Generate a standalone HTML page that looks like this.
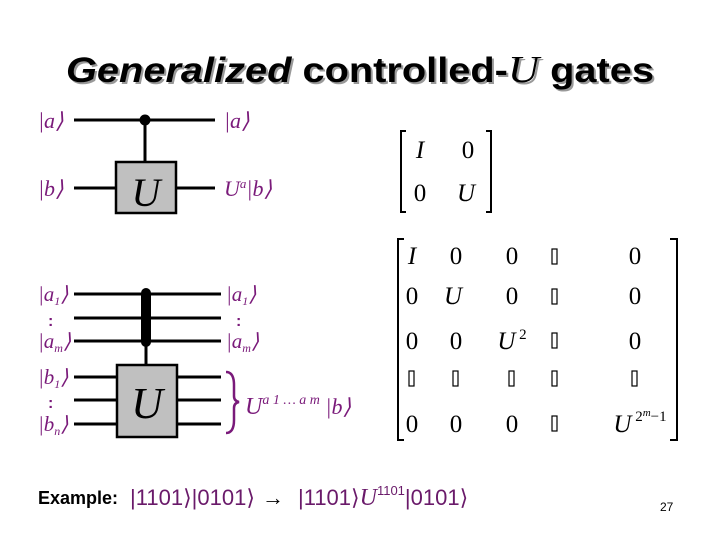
<!DOCTYPE html>
<html><head><style>
body{margin:0;background:#fff}
svg{display:block}
.p{fill:#7a1a7a;font-family:"Liberation Serif",serif;font-style:italic}
.s{font-family:"Liberation Serif",serif}
</style></head><body>
<svg width="720" height="540" viewBox="0 0 720 540" xmlns="http://www.w3.org/2000/svg">
<text x="68" y="84" fill="#999" font-family="Liberation Sans,sans-serif" font-weight="bold" font-size="35" textLength="588" lengthAdjust="spacingAndGlyphs"><tspan font-style="italic">Generalized</tspan> controlled-<tspan font-family="Liberation Serif,serif" font-style="italic" font-weight="normal" font-size="38">U</tspan> gates</text>
<text x="66" y="82" font-family="Liberation Sans,sans-serif" font-weight="bold" font-size="35" textLength="588" lengthAdjust="spacingAndGlyphs"><tspan font-style="italic">Generalized</tspan> controlled-<tspan font-family="Liberation Serif,serif" font-style="italic" font-weight="normal" font-size="38">U</tspan> gates</text>
<g stroke="#000" stroke-width="3">
<line x1="74" y1="120" x2="215" y2="120"/>
<line x1="145" y1="120" x2="145" y2="162"/>
<line x1="74" y1="188" x2="116" y2="188"/>
<line x1="176" y1="188" x2="215" y2="188"/>
</g>
<circle cx="145" cy="120" r="5.5" fill="#000"/>
<rect x="116" y="162" width="60" height="51" fill="#c0c0c0" stroke="#000" stroke-width="2.5"/>
<text x="146" y="206" text-anchor="middle" class="s" font-style="italic" font-size="40">U</text>
<g class="p" font-size="22">
<text x="38" y="128">|a⟩</text>
<text x="224" y="128">|a⟩</text>
<text x="38" y="196">|b⟩</text>
<text x="224" y="196">U<tspan font-size="13" dy="-8">a</tspan><tspan dy="8">|b⟩</tspan></text>
</g>
<g fill="none" stroke="#000" stroke-width="2">
<path d="M406 131 H401 V212 H406"/>
<path d="M486 131 H491 V212 H486"/>
</g>
<g class="s" font-size="25">
<text x="420" y="158" text-anchor="middle" font-style="italic">I</text>
<text x="468" y="158" text-anchor="middle">0</text>
<text x="420" y="201" text-anchor="middle">0</text>
<text x="466" y="201" text-anchor="middle" font-style="italic">U</text>
</g>
<g stroke="#000" stroke-width="3">
<line x1="74" y1="294" x2="221" y2="294"/>
<line x1="74" y1="318" x2="221" y2="318"/>
<line x1="74" y1="341" x2="221" y2="341"/>
<line x1="74" y1="377" x2="117" y2="377"/>
<line x1="74" y1="400" x2="117" y2="400"/>
<line x1="74" y1="424" x2="117" y2="424"/>
<line x1="177" y1="377" x2="221" y2="377"/>
<line x1="177" y1="400" x2="221" y2="400"/>
<line x1="177" y1="424" x2="221" y2="424"/>
<line x1="146" y1="341" x2="146" y2="365"/>
</g>
<rect x="141" y="288" width="10" height="59" rx="5" fill="#000"/>
<rect x="117" y="365" width="60" height="72" fill="#c0c0c0" stroke="#000" stroke-width="2.5"/>
<text x="147" y="418" text-anchor="middle" class="s" font-style="italic" font-size="44">U</text>
<g class="p" font-size="21">
<text x="38" y="301">|a<tspan font-size="12" dy="4">1</tspan><tspan dy="-4">⟩</tspan></text>
<text x="48" y="326" font-style="normal" font-family="Liberation Sans,sans-serif" font-weight="bold" font-size="16">:</text>
<text x="38" y="348">|a<tspan font-size="12" dy="4">m</tspan><tspan dy="-4">⟩</tspan></text>
<text x="38" y="384">|b<tspan font-size="12" dy="4">1</tspan><tspan dy="-4">⟩</tspan></text>
<text x="48" y="408" font-style="normal" font-family="Liberation Sans,sans-serif" font-weight="bold" font-size="16">:</text>
<text x="38" y="431">|b<tspan font-size="12" dy="4">n</tspan><tspan dy="-4">⟩</tspan></text>
<text x="226" y="301">|a<tspan font-size="12" dy="4">1</tspan><tspan dy="-4">⟩</tspan></text>
<text x="236" y="326" font-style="normal" font-family="Liberation Sans,sans-serif" font-weight="bold" font-size="16">:</text>
<text x="226" y="348">|a<tspan font-size="12" dy="4">m</tspan><tspan dy="-4">⟩</tspan></text>
<text x="245" y="414" font-size="24">U<tspan font-size="14" dy="-10">a 1 … a m</tspan><tspan dy="10" font-size="22"> |b⟩</tspan></text>
</g>
<path d="M226 372 Q234 372 234 385 V396 Q234 401 239 402 Q234 403 234 408 V420 Q234 433 226 433" fill="none" stroke="#7a1a7a" stroke-width="2.5"/>
<g fill="none" stroke="#000" stroke-width="2">
<path d="M404 239 H398 V440 H404"/>
<path d="M670 239 H677 V440 H670"/>
</g>
<g class="s" font-size="25" text-anchor="middle">
<text x="412" y="264" font-style="italic">I</text><text x="456" y="264">0</text><text x="512" y="264">0</text><text x="635" y="264">0</text>
<text x="412" y="304">0</text><text x="453" y="304" font-style="italic">U</text><text x="512" y="304">0</text><text x="635" y="304">0</text>
<text x="412" y="349">0</text><text x="456" y="349">0</text><text x="512" y="349"><tspan font-style="italic">U</tspan><tspan font-size="15" dy="-10"> 2</tspan></text><text x="635" y="349">0</text>
<text x="412" y="432">0</text><text x="456" y="432">0</text><text x="512" y="432">0</text><text x="640" y="432"><tspan font-style="italic">U</tspan><tspan font-size="15" dy="-11"> 2</tspan><tspan font-size="11" font-style="italic" dy="-5">m</tspan><tspan font-size="15" dy="5">−1</tspan></text>
</g>
<g fill="none" stroke="#000" stroke-width="1.2">
<rect x="552" y="249" width="5" height="15"/><rect x="552" y="289" width="5" height="15"/><rect x="552" y="333" width="5" height="15"/><rect x="552" y="371" width="5" height="15"/><rect x="552" y="416" width="5" height="15"/>
<rect x="409" y="371" width="5" height="15"/><rect x="453" y="371" width="5" height="15"/><rect x="509" y="371" width="5" height="15"/><rect x="632" y="371" width="5" height="15"/>
</g>
<text x="38" y="504" font-family="Liberation Sans,sans-serif" font-weight="bold" font-size="18">Example:</text>
<g font-family="Liberation Sans,sans-serif" font-size="22" fill="#6a1a6a">
<text x="130" y="505" textLength="125" lengthAdjust="spacingAndGlyphs">|1101⟩|0101⟩</text>
<text x="262" y="505" fill="#000" font-weight="bold">→</text>
<text x="298" y="505">|1101⟩<tspan font-family="Liberation Serif,serif" font-style="italic" font-size="24">U</tspan><tspan font-size="13" dy="-10">1101</tspan><tspan dy="10">|0101⟩</tspan></text>
</g>
<text x="660" y="511" font-family="Liberation Sans,sans-serif" font-size="12">27</text>
</svg>
</body></html>
